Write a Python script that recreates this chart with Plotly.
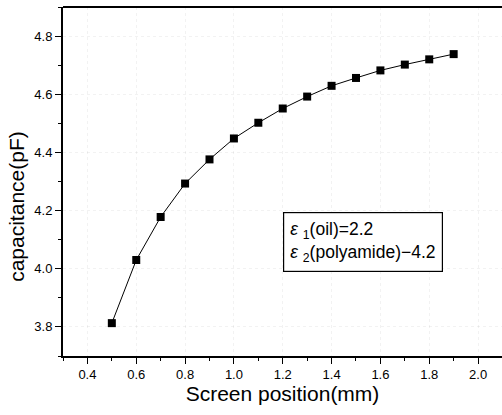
import plotly.graph_objects as go

x_pos = [0.5, 0.6, 0.7, 0.8, 0.9, 1.0, 1.1, 1.2, 1.3, 1.4, 1.5, 1.6, 1.7, 1.8, 1.9]
capacitance = [3.813, 4.03, 4.178, 4.293, 4.376, 4.448, 4.502, 4.551, 4.592, 4.629, 4.656, 4.682, 4.702, 4.72, 4.738]
x_ticks = [0.4, 0.6, 0.8, 1.0, 1.2, 1.4, 1.6, 1.8, 2.0]
y_ticks = [3.8, 4.0, 4.2, 4.4, 4.6, 4.8]

fig = go.Figure()
fig.add_trace(go.Scatter(
    x=x_pos, y=capacitance, mode="lines+markers",
    line=dict(color="black", width=1),
    marker=dict(symbol="square", size=8, color="black"),
    showlegend=False,
))

font_family = "Liberation Sans, Arial, sans-serif"
fig.update_layout(
    width=502, height=415,
    margin=dict(l=63, r=0, t=7, b=59),
    plot_bgcolor="white", paper_bgcolor="white",
    font=dict(family=font_family, color="black"),
)
fig.update_xaxes(
    range=[0.3, 2.098], tickvals=x_ticks, ticktext=[f"{v:.1f}" for v in x_ticks],
    ticks="outside", ticklen=6, tickwidth=1.2, tickcolor="black",
    minor=dict(dtick=0.1, tick0=0.3, ticks="outside", ticklen=3, tickcolor="black", showgrid=False),
    showline=True, linecolor="black", linewidth=1.5, mirror=False,
    showgrid=True, gridcolor="rgba(0,0,0,0.05)", griddash="dot", gridwidth=1,
    zeroline=False, tickfont=dict(size=13),
    title=dict(text="Screen position(mm)", font=dict(size=21), standoff=5),
)
fig.update_yaxes(
    range=[3.7, 4.9], tickvals=y_ticks, ticktext=[f"{v:.1f}" for v in y_ticks],
    ticks="outside", ticklen=6, tickwidth=1.2, tickcolor="black",
    minor=dict(dtick=0.1, tick0=3.7, ticks="outside", ticklen=3, tickcolor="black", showgrid=False),
    showline=True, linecolor="black", linewidth=2,
    showgrid=True, gridcolor="rgba(0,0,0,0.05)", griddash="dot", gridwidth=1,
    zeroline=False, tickfont=dict(size=13),
)
# y-axis title (placed slightly below the plot centre, as in the reference)
fig.add_annotation(
    xref="paper", yref="paper", x=-0.105, y=0.43, xanchor="center", yanchor="middle",
    text="capacitance(pF)", textangle=-90, showarrow=False,
    font=dict(size=21, family=font_family),
)
# top frame line
fig.add_shape(type="line", xref="paper", yref="paper", x0=0, x1=1, y0=1, y1=1,
              line=dict(color="black", width=2))

fig.add_annotation(
    xref="paper", yref="paper", x=0.501, y=0.413, xanchor="left", yanchor="top",
    text="<i>ε</i> <sub>1</sub>(oil)=2.2<br><i>ε</i> <sub>2</sub>(polyamide)−4.2",
    showarrow=False, align="left", font=dict(size=17.5, family=font_family),
    bordercolor="black", borderwidth=1.2, borderpad=6, bgcolor="white",
)

fig.write_html("out.html")
